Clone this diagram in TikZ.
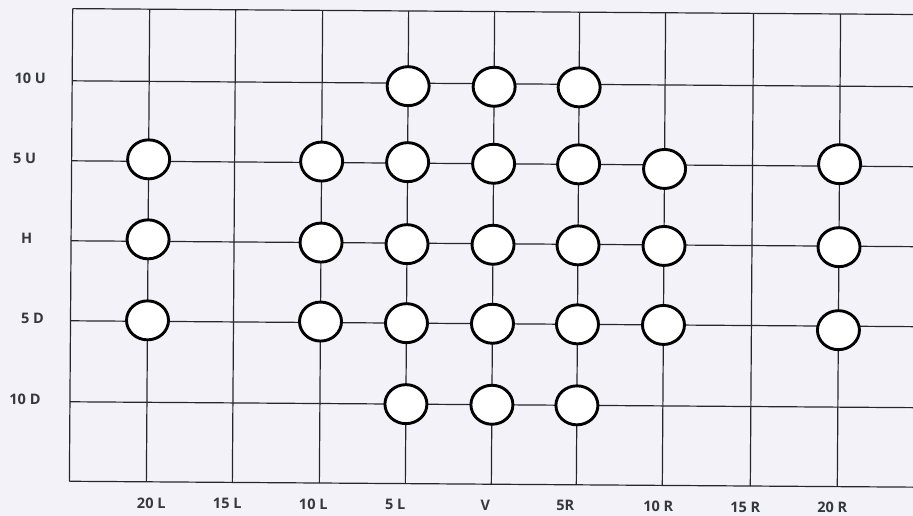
\documentclass[tikz,border=0pt]{standalone}
\usepackage{fontspec}
\setmainfont{Open Sans}
\usetikzlibrary{shapes.geometric}
\definecolor{bgc}{RGB}{243,242,249}
\definecolor{gridc}{RGB}{38,38,44}
\definecolor{labc}{RGB}{55,55,62}
\tikzset{
  gridline/.style={draw=gridc,line width=1.2pt},
  hole/.style={ellipse,draw=black,line width=2.9pt,fill=white,
    minimum width=42pt,minimum height=39pt,inner sep=0pt},
  lab/.style={text=labc,font=\fontsize{14.5}{16}\selectfont\bfseries,inner sep=0pt,anchor=center}
}
\begin{document}
\begin{tikzpicture}[x=1pt,y=-1pt]
\useasboundingbox (0,0) rectangle (913,516);
\fill[bgc] (0,0) rectangle (913,516);
\clip (0,0) rectangle (913,516);
\begin{scope}[rotate around={-0.4:(456,250)}]
  % rows: name / y
  \foreach \n/\y in {top/11.3,r1/83.5,r2/163.5,r3/243.5,r4/323.5,r5/404.5,bot/484}{
    \coordinate (L\n) at (71,\y);
    \coordinate (R\n) at (960,\y);
    \draw[gridline] (L\n) -- (R\n);
  }
  % columns: name / x
  \foreach \n/\x in {c0/71,c1/148,c2/234,c3/321,c4/407,c5/493,c6/578,c7/664,c8/752,c9/839}{
    \coordinate (T\n) at (\x,11.3);
    \coordinate (B\n) at (\x,484);
    \draw[gridline] (T\n) -- (B\n);
  }
  % holes: column x / row y / extra y offset / name
  \foreach \x/\y/\d/\n in {
    407/83.5/3/a1, 493/83.5/3/a2, 578/83.5/3/a3,
    148/163.5/-2/b1, 321/163.5/-1/b2, 407/163.5/-1/b3, 493/163.5/0/b4, 578/163.5/0/b5, 664/163.5/4/b6, 839/163.5/-2/b7,
    148/243.5/-2/c1, 321/243.5/0/c2, 407/243.5/1/c3, 493/243.5/1/c4, 578/243.5/1/c5, 664/243.5/1/c6, 839/243.5/1/c7,
    148/323.5/-1/d1, 321/323.5/-1/d2, 407/323.5/0/d3, 493/323.5/0/d4, 578/323.5/0/d5, 664/323.5/0/d6, 839/323.5/4/d7,
    407/404.5/0/e1, 493/404.5/0/e2, 578/404.5/0/e3}{
    \node[hole] (h\n) at (\x,\y+\d) {};
  }
  % row labels
  \node[lab] (l10U) at (29,81.5) {10 U};
  \node[lab] (l5U)  at (24,161.5) {5 U};
  \node[lab] (lH)   at (26.5,241.5) {H};
  \node[lab] (l5D)  at (33,321.5) {5 D};
  \node[lab] (l10D) at (26,402) {10 D};
  % column labels
  \foreach \x/\t/\n in {153/20 L/k1,229/15 L/k2,315/10 L/k3,397/5 L/k4,487/V/k5,567/5R/k6,660/10 R/k7,747/15 R/k8,834/20 R/k9}{
    \node[lab] (\n) at (\x,505) {\t};
  }
\end{scope}
\end{tikzpicture}
\end{document}
